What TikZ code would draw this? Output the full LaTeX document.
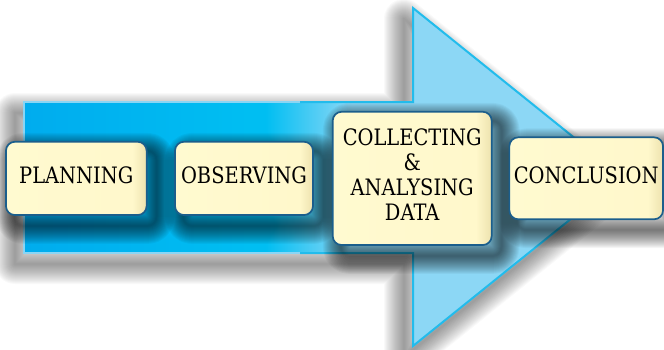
\documentclass[tikz,border=0pt]{standalone}
\usepackage{fontspec}
\setmainfont{DejaVu Serif}
\definecolor{shaftA}{HTML}{00ACEE}
\definecolor{shaftB}{HTML}{00BEF2}
\definecolor{headc}{HTML}{8CD7F5}
\definecolor{shaftline}{HTML}{8AD5F4}
\definecolor{headline}{HTML}{22BCEC}
\definecolor{boxline}{HTML}{1B5E8C}
\definecolor{boxA}{HTML}{FFFAD0}
\definecolor{boxB}{HTML}{FFF8CB}
\definecolor{boxC}{HTML}{EDE2AE}
\pgfdeclarehorizontalshading{shaftshade}{100bp}{color(0bp)=(shaftA); color(25bp)=(shaftA); color(54bp)=(shaftB); color(56bp)=(shaftB); color(67bp)=(headc); color(75bp)=(headc); color(100bp)=(headc)}
\pgfdeclarehorizontalshading{boxshade}{100bp}{color(0bp)=(boxA); color(25bp)=(boxA); color(70bp)=(boxB); color(75bp)=(boxC); color(100bp)=(boxC)}
\pgfdeclarelayer{back}
\pgfdeclarelayer{mid}
\pgfsetlayers{back,mid,main}
\newcommand\arrowpath{(24,102) -- (413,102) -- (413,8) -- (623,177) -- (413,346) -- (413,253) -- (24,253) -- cycle}
\newcommand\boxshadow[1]{%
  \foreach \w in {2,4,...,36}
    \draw[black, draw opacity=0.04, line width=\w pt, rounded corners=9pt, line join=round] ([shift={(9,10)}]#1.north west) rectangle ([shift={(9,10)}]#1.south east);
}
\newcommand\cond[1]{\scalebox{0.86}[1]{\begin{tabular}{@{}c@{}}#1\end{tabular}}}
\tikzset{
  box/.style={draw=boxline, line width=1.7pt, rounded corners=9pt, shade, shading=boxshade,
    align=center, inner sep=0pt, font=\fontsize{22.6}{25}\selectfont}
}
\begin{document}
\begin{tikzpicture}[x=1pt,y=-1pt]
\useasboundingbox (0,0) rectangle (664,349);
% boxes
\node[box, minimum width=140.7pt, minimum height=73.3pt] (plan) at (76.3,178.4) {\cond{PLANNING}};
\node[box, minimum width=138pt, minimum height=73.3pt] (obs) at (244,178.4) {\cond{OBSERVING}};
\node[box, minimum width=159pt, minimum height=133.3pt] (coll) at (412.2,178.4) {\cond{COLLECTING\\\&\\ANALYSING\\DATA}};
\node[box, minimum width=153.7pt, minimum height=82pt] (conc) at (586.2,178.3) {\cond{CONCLUSION}};
% arrow
\begin{pgfonlayer}{back}
  \begin{scope}[shift={(-9,11)}]
    \foreach \w in {2,4,...,40}
      \draw[black, draw opacity=0.025, line width=\w pt, line join=round] \arrowpath;
  \end{scope}
  \fill[white] \arrowpath;
  \fill[headc] (413,8) -- (623,177) -- (413,346) -- cycle;
  \shade[shading=shaftshade] (24,102) rectangle (413.5,253);
  \draw[shaftline, line width=2pt] (300,102) -- (24,102) -- (24,253) -- (300,253);
  \draw[headline, line width=2pt, line join=miter] (300,102) -- (413,102) -- (413,8) -- (623,177) -- (413,346) -- (413,253) -- (300,253);
\end{pgfonlayer}
\begin{pgfonlayer}{mid}
  \boxshadow{plan}
  \boxshadow{obs}
  \boxshadow{coll}
  \boxshadow{conc}
\end{pgfonlayer}
\end{tikzpicture}
\end{document}
